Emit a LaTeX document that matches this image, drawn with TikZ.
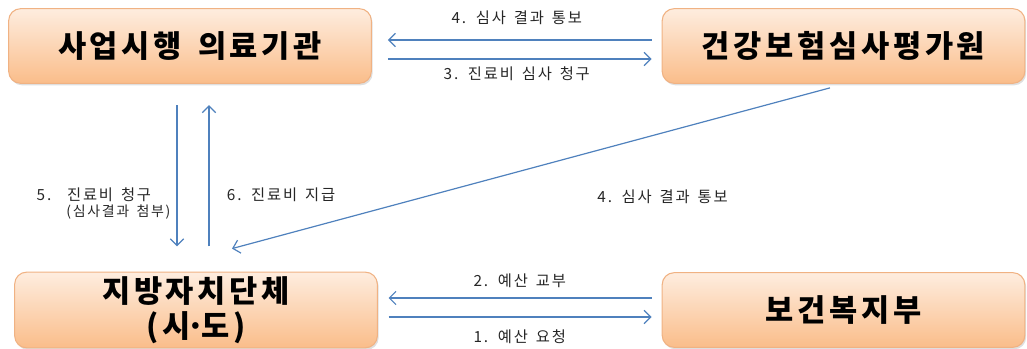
\documentclass[tikz,border=0pt]{standalone}
\usepackage{fontspec}
\setmainfont{Noto Sans CJK KR}
\newfontfamily\boxfont{Noto Sans CJK KR}[LetterSpace=12]
\newfontfamily\lblfont{Noto Sans CJK KR}[LetterSpace=12,WordSpace=1.5]
\usetikzlibrary{arrows.meta,shadows,calc}
\definecolor{arrowblue}{HTML}{4F81BD}
\definecolor{boxtop}{HTML}{FEEDDF}
\definecolor{boxbottom}{HTML}{FABD8A}
\definecolor{boxline}{HTML}{F0B283}

\begin{document}
\begin{tikzpicture}[x=0.75pt,y=-0.75pt,
  box/.style={draw=boxline,line width=0.8pt,rounded corners=9pt,
    top color=boxtop,bottom color=boxbottom,
    minimum width=272pt,minimum height=56pt,
    font=\boxfont\fontsize{23}{26}\selectfont\bfseries,
    drop shadow={opacity=0.25,shadow xshift=1pt,shadow yshift=-1.5pt}},
  arr/.style={draw=arrowblue,line width=0.9pt,
    -{Straight Barb[length=5pt,width=10pt]}},
  lbl/.style={font=\lblfont\fontsize{11.5}{13}\selectfont,text=black!85,inner sep=1pt}]
\useasboundingbox (0,0) rectangle (1027,349);
\node[box] (A) at (190,46) {사업시행 의료기관};
\node[box] (B) at (843.5,46) {건강보험심사평가원};
\node[box,align=center] (C) at (196,310) {지방자치단체\\(시\kern-0.12em·\kern-0.12em도)};
\node[box] (D) at (843.5,310) {보건복지부};
\draw[arr,shorten <=7.5pt,shorten >=12pt] (B.west |- 0,40) -- node[lbl,above=10pt] {4. 심사 결과 통보} (A.east |- 0,40);
\draw[arr,shorten <=12pt,shorten >=7.5pt] (A.east |- 0,59) -- node[lbl,below=4pt] {3. 진료비 심사 청구} (B.west |- 0,59);
\draw[arr,shorten <=16pt,shorten >=19pt] (A.south -| 177,0) -- node[lbl,pos=0.593,left=18pt] (E) {5.\ \ 진료비 청구} (C.north -| 177,0);
\node[lbl,anchor=east,font=\lblfont\fontsize{10.5}{12}\selectfont] (F) at (172,212) {(심사결과 첨부)};
\draw[arr,shorten <=19pt,shorten >=16pt] (C.north -| 209,0) -- node[lbl,pos=0.407,right=12pt] (G) {6. 진료비 지급} (A.south -| 209,0);
\draw[arr] ($(B.south -| 830,0)+(0,4)$) -- node[lbl,pos=0.28,below=41pt] {4. 심사 결과 통보} ($(C.north -| 232,0)+(0,-23)$);
\draw[arr,shorten <=7.5pt,shorten >=8pt] (D.west |- 0,298) -- node[lbl,above=6pt] {2. 예산 교부} (C.east |- 0,298);
\draw[arr,shorten <=8pt,shorten >=7.5pt] (C.east |- 0,317) -- node[lbl,below=8pt] {1. 예산 요청} (D.west |- 0,317);
\end{tikzpicture}
\end{document}
